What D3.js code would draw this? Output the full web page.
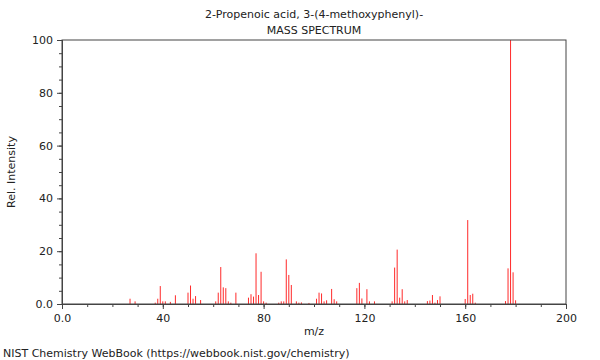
<!DOCTYPE html>
<html>
<head>
<meta charset="utf-8">
<script src="https://cdn.jsdelivr.net/npm/d3@7"></script>
<style>
  body { margin: 0; background: #fff; }
  text { font-family: "DejaVu Sans", sans-serif; fill: #222; }
</style>
</head>
<body>
<div id="container"></div>
<script>
const width = 600;
const height = 360;
const margin = {left: 62, right: 34, top: 40, bottom: 56};

// peak m/z and relative intensity
const mzValues = [27, 29, 37, 38, 39, 40, 41, 43, 45, 50, 51, 52, 53, 55, 61, 62, 63, 64, 65, 66, 67, 69,
  74, 75, 76, 77, 78, 79, 80, 81, 86, 87, 88, 89, 90, 91, 93, 94, 95, 98, 101, 102, 103, 104, 105,
  107, 108, 109, 117, 118, 119, 121, 122, 124, 131, 132, 133, 134, 135, 136, 137,
  145, 146, 147, 148, 149, 150, 160, 161, 162, 163, 164, 176, 177, 178, 179, 180];
const intensities = [2, 1, 0.5, 2, 6.8, 1, 1, 0.8, 3.3, 4.3, 7, 2, 3, 1.5, 1, 4.3, 14, 6.3, 6, 1, 0.5, 4.3,
  2.4, 3.7, 2.8, 19.2, 3.4, 12.2, 1, 0.5, 0.5, 1, 1, 16.9, 11, 7.2, 1, 0.5, 0.6, 0.4, 2, 4.3, 4, 1, 1.4,
  5.7, 1.8, 1, 6, 8, 2.1, 5.6, 1, 1, 1, 13.8, 20.6, 2.4, 5.6, 1, 1.5,
  1.1, 1.3, 3.4, 0.5, 1.5, 2.9, 1.9, 31.8, 3.4, 3.9, 0.5, 1.1, 13.5, 100, 12, 1.4];

const xTickLabels = ["0.0", "40", "80", "120", "160", "200"];
const yTickLabels = ["0.0", "20", "40", "60", "80", "100"];

const svg = d3.select("#container").append("svg")
  .attr("width", width)
  .attr("height", height);

const x = d3.scaleLinear().domain([0, 200]).range([margin.left, width - margin.right]);
const y = d3.scaleLinear().domain([0, 100]).range([height - margin.bottom, margin.top]);

// peaks
svg.append("g").selectAll("line").data(mzValues).join("line")
  .attr("x1", d => x(d)).attr("x2", d => x(d))
  .attr("y1", y(0))
  .attr("y2", (d, i) => y(intensities[i]))
  .attr("stroke", "#ff2a2a")
  .attr("stroke-width", 1);

// minor ticks
const xMinor = d3.axisBottom(x).tickValues(d3.range(0, 201, 10)).tickSize(3).tickFormat("");
const yMinor = d3.axisLeft(y).tickValues(d3.range(0, 101, 5)).tickSize(3).tickFormat("");
svg.append("g").attr("transform", `translate(0,${y(0)})`).call(xMinor);
svg.append("g").attr("transform", `translate(${x(0)},0)`).call(yMinor);

const xAxis = d3.axisBottom(x).tickValues([0, 40, 80, 120, 160, 200])
  .tickSize(5).tickPadding(5).tickFormat((d, i) => xTickLabels[i]);
const yAxis = d3.axisLeft(y).tickValues([0, 20, 40, 60, 80, 100])
  .tickSize(5).tickPadding(4).tickFormat((d, i) => yTickLabels[i]);
svg.append("g").attr("transform", `translate(0,${y(0)})`).call(xAxis);
svg.append("g").attr("transform", `translate(${x(0)},0)`).call(yAxis);

svg.selectAll(".tick text").attr("font-size", 11).attr("font-family", "DejaVu Sans").attr("fill", "#222");
svg.selectAll(".domain, .tick line").attr("stroke", "#444");

// frame
svg.append("rect")
  .attr("x", x(0)).attr("y", y(100))
  .attr("width", x(200) - x(0)).attr("height", y(0) - y(100))
  .attr("fill", "none").attr("stroke", "#444");

const cx = (x(0) + x(200)) / 2;
svg.append("text").attr("x", cx).attr("y", 18).attr("text-anchor", "middle")
  .attr("font-size", 11).text("2-Propenoic acid, 3-(4-methoxyphenyl)-");
svg.append("text").attr("x", cx).attr("y", 34).attr("text-anchor", "middle")
  .attr("font-size", 11).text("MASS SPECTRUM");
svg.append("text").attr("x", cx).attr("y", 335).attr("text-anchor", "middle")
  .attr("font-size", 11).text("m/z");
svg.append("text")
  .attr("transform", `translate(15,${(y(0) + y(100)) / 2}) rotate(-90)`)
  .attr("text-anchor", "middle")
  .attr("font-size", 11).text("Rel. Intensity");
svg.append("text").attr("x", 3).attr("y", 357)
  .attr("font-size", 11).text("NIST Chemistry WebBook (https://webbook.nist.gov/chemistry)");
</script>
</body>
</html>
